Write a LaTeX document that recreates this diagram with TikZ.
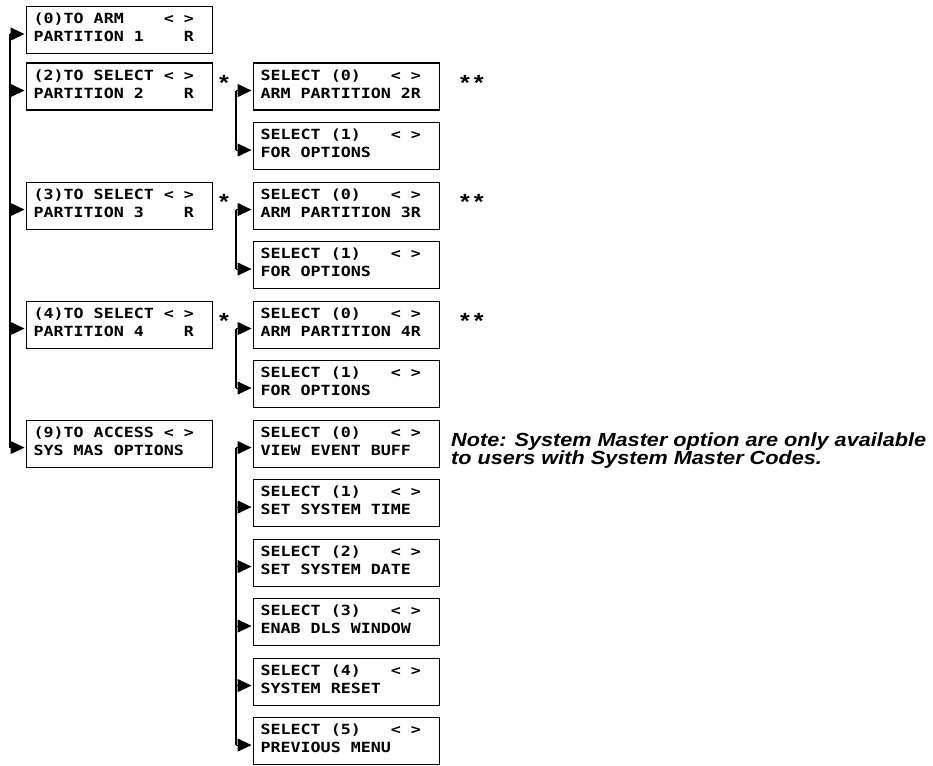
\documentclass[tikz,border=0pt]{standalone}
\usepackage{fontspec}
\usetikzlibrary{arrows.meta}
\newfontfamily\lcdfont[FakeStretch=1.19]{DejaVu Sans Mono}
\newfontfamily\notefont[FakeStretch=1.14]{Liberation Sans}
\newcommand\q{\hphantom{0}}
\begin{document}
\begin{tikzpicture}[x=1pt,y=-1pt,
  lcdbox/.style={draw, line width=1.1pt, anchor=north west, minimum width=186pt,
    minimum height=47pt, text width=172pt, inner xsep=7pt, inner ysep=0pt, align=left,
    font=\lcdfont\bfseries\fontsize{14}{18}\selectfont,
    execute at end node={\rule[-5pt]{0pt}{1pt}}},
  trunk/.style={line width=1.1pt},
  arr/.style={line width=1.1pt, -{Triangle[length=14pt,width=13pt]}, shorten >=1.5pt},
  starlbl/.style={inner sep=0pt, font=\notefont\bfseries\fontsize{22}{22}\selectfont},
  notelbl/.style={anchor=north west, inner sep=0pt, align=left,
    font=\notefont\bfseries\itshape\fontsize{19}{18}\selectfont}]
\useasboundingbox[fill=white] (0,0) rectangle (933,765);

% left column
\node[lcdbox] (L0) at (26,6)     {(0)TO\q ARM\q\q\q\q<\q>\\PARTITION\q 1\q\q\q\q R};
\node[lcdbox] (L2) at (26,62.5)  {(2)TO\q SELECT\q<\q>\\PARTITION\q 2\q\q\q\q R};
\node[lcdbox] (L3) at (26,181.5) {(3)TO\q SELECT\q<\q>\\PARTITION\q 3\q\q\q\q R};
\node[lcdbox] (L4) at (26,300.5) {(4)TO\q SELECT\q<\q>\\PARTITION\q 4\q\q\q\q R};
\node[lcdbox] (L9) at (26,419.5) {(9)TO\q ACCESS\q<\q>\\SYS\q MAS\q OPTIONS};

% middle column
\node[lcdbox] (M2a) at (253,62.5)  {SELECT\q(0)\q\q\q<\q>\\ARM\q PARTITION\q 2R};
\node[lcdbox] (M2b) at (253,122)   {SELECT\q(1)\q\q\q<\q>\\FOR\q OPTIONS};
\node[lcdbox] (M3a) at (253,181.5) {SELECT\q(0)\q\q\q<\q>\\ARM\q PARTITION\q 3R};
\node[lcdbox] (M3b) at (253,241)   {SELECT\q(1)\q\q\q<\q>\\FOR\q OPTIONS};
\node[lcdbox] (M4a) at (253,300.5) {SELECT\q(0)\q\q\q<\q>\\ARM\q PARTITION\q 4R};
\node[lcdbox] (M4b) at (253,360)   {SELECT\q(1)\q\q\q<\q>\\FOR\q OPTIONS};
\node[lcdbox] (S0) at (253,419.5) {SELECT\q(0)\q\q\q<\q>\\VIEW\q EVENT\q BUFF};
\node[lcdbox] (S1) at (253,479)   {SELECT\q(1)\q\q\q<\q>\\SET\q SYSTEM\q TIME};
\node[lcdbox] (S2) at (253,538.5) {SELECT\q(2)\q\q\q<\q>\\SET\q SYSTEM\q DATE};
\node[lcdbox] (S3) at (253,598)   {SELECT\q(3)\q\q\q<\q>\\ENAB\q DLS\q WINDOW};
\node[lcdbox] (S4) at (253,657.5) {SELECT\q(4)\q\q\q<\q>\\SYSTEM\q RESET};
\node[lcdbox] (S5) at (253,717)   {SELECT\q(5)\q\q\q<\q>\\PREVIOUS\q MENU};

% stars
\node[starlbl] (st2) at (224,83)  {*};
\node[starlbl] (st3) at (224,202) {*};
\node[starlbl] (st4) at (224,321) {*};
\node[starlbl] (ss2) at (472,83)  {*\hspace{4pt}*};
\node[starlbl] (ss3) at (472,202) {*\hspace{4pt}*};
\node[starlbl] (ss4) at (472,321) {*\hspace{4pt}*};

% note
\node[notelbl] (note) at (451,433) {Note: System Master option are only available\\to users with System Master Codes.};

% trunk coordinates
\foreach \b in {L0,L2,L3,L4,L9}
  \coordinate (t\b) at ([xshift=-16pt,yshift=-4pt]\b.west);
\foreach \b in {M2a,M2b,M3a,M3b,M4a,M4b,S0,S1,S2,S3,S4,S5}
  \coordinate (t\b) at ([xshift=-17pt,yshift=-4pt]\b.west);

\draw[trunk] (tL0) -- (tL9);
\draw[trunk] (tM2a) -- (tM2b);
\draw[trunk] (tM3a) -- (tM3b);
\draw[trunk] (tM4a) -- (tM4b);
\draw[trunk] (tS0) -- (tS5);

\foreach \b in {L0,L2,L3,L4,L9,M2a,M2b,M3a,M3b,M4a,M4b,S0,S1,S2,S3,S4,S5}
  \draw[arr] (t\b) -- ([yshift=-4pt]\b.west);
\end{tikzpicture}
\end{document}
